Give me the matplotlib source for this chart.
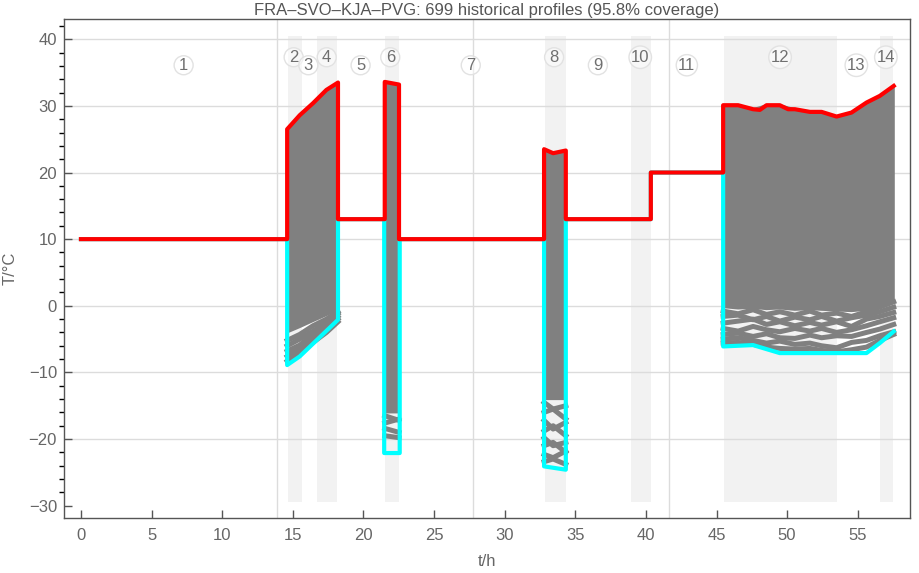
import matplotlib
matplotlib.use("Agg")
import matplotlib.pyplot as plt
from matplotlib.ticker import MultipleLocator

plt.rcParams['font.family'] = ['Liberation Sans', 'DejaVu Sans']

title = "FRA\u2013SVO\u2013KJA\u2013PVG: 699 historical profiles (95.8% coverage)"

# phase bands (start, end) in hours
bands = [(14.66, 15.68), (16.71, 18.16), (21.51, 22.5), (32.86, 34.33),
         (38.98, 40.33), (45.52, 53.5), (56.56, 57.5)]
day_lines = [13.88, 27.76, 41.64]

# phase labels
phase_num = list(range(1, 15))
phase_x = [7.27, 15.06, 16.1, 17.4, 19.8, 21.9, 27.6, 33.5, 36.6, 39.6, 42.9, 49.5, 54.9, 56.99]
phase_y = [36.1, 37.3, 36.1, 37.3, 36.1, 37.3, 36.1, 37.3, 36.1, 37.3, 36.1, 37.3, 36.1, 37.3]

# max envelope (red)
max_t = [0, 14.6, 14.6, 15.49, 16.43, 17.38, 18.2, 18.2, 21.51, 21.51, 22.52, 22.52,
         32.79, 32.79, 33.43, 34.33, 34.33, 40.35, 40.35, 45.47, 45.47, 46.53, 47.59,
         48.07, 48.54, 49.48, 50.07, 50.55, 51.61, 52.44, 53.5, 54.56, 55.62, 56.56, 57.55]
max_v = [10, 10, 26.5, 28.6, 30.4, 32.4, 33.5, 13, 13, 33.6, 33.2, 10,
         10, 23.5, 22.9, 23.3, 13, 13, 20, 20, 30.1, 30.1, 29.5,
         29.4, 30.1, 30.1, 29.5, 29.5, 29.1, 29.1, 28.4, 29.0, 30.5, 31.5, 33.0]

# min envelope (cyan)
min_t = [0, 14.6, 14.6, 15.49, 18.2, 18.2, 21.47, 21.47, 22.57, 22.57,
         32.79, 32.79, 34.33, 34.33, 40.35, 40.35, 45.47, 45.47, 47.59, 49.48,
         53.5, 55.62, 56.56, 57.55]
min_v = [10, 10, -8.9, -7.6, -2.1, 13, 13, -22.1, -22.1, 10,
         10, -24.1, -24.6, 13, 13, 20, 20, -6.1, -5.9, -7.1,
         -7.1, -7.1, -5.6, -3.85]

# dense core of the profiles (top from max envelope, bottom = lowest solid grey)
r24_t = [14.6, 15.49, 16.43, 17.38, 18.2]
r24_hi = [26.5, 28.6, 30.4, 32.4, 33.5]
r24_core = [-4.0, -3.2, -2.3, -1.4, -0.6]
r6_t = [21.51, 22.52]
r6_hi = [33.6, 33.2]
r6_core = [-16.0, -16.0]
r8_t = [32.79, 33.43, 34.33]
r8_hi = [23.5, 22.9, 23.3]
r8_core = [-14.0, -14.0, -14.0]
r12_t = [45.47, 46.53, 47.59, 48.54, 49.48, 50.55, 51.61, 52.44, 53.5, 54.56, 55.62, 56.56, 57.55]
r12_hi = [30.1, 30.1, 29.5, 30.1, 30.1, 29.5, 29.1, 29.1, 28.4, 29.0, 30.5, 31.5, 33.0]
r12_core = [-0.2, -0.4, -0.3, -0.5, -0.4, -0.6, -0.5, -0.6, -0.7, -0.8, -0.6, -0.2, 0.5]

# sparse lower profiles
r24_low = [[-8.3, -7.0, -5.5, -4.0, -2.4],
           [-7.6, -6.4, -5.0, -3.4, -2.0],
           [-6.8, -5.9, -4.3, -2.9, -1.6],
           [-6.0, -5.0, -3.8, -2.5, -1.2],
           [-5.2, -4.3, -3.0, -2.0, -0.9]]
r6_low = [[-16.5, -17.2], [-17.6, -17.0], [-18.4, -19.0], [-19.5, -19.8]]
r8_low = [[-14.5, -15.5, -15.0], [-16.0, -15.5, -17.0], [-17.2, -18.5, -17.5],
          [-18.8, -18.0, -19.5], [-19.8, -21.0, -20.5], [-21.0, -20.5, -22.0],
          [-22.3, -22.8, -21.8], [-23.4, -23.0, -23.8]]
r12_low = [[-0.8, -1.2, -0.6, -1.3, -0.9, -1.4, -0.8, -1.4, -1.1, -1.6, -0.9, -0.2, 0.6],
           [-1.6, -1.4, -2.1, -1.6, -2.3, -1.7, -2.1, -1.6, -2.3, -1.8, -1.4, -0.9, -0.2],
           [-2.6, -2.3, -2.0, -2.8, -2.4, -3.0, -2.5, -2.9, -2.4, -3.1, -2.0, -1.6, -1.0],
           [-3.4, -3.8, -3.1, -3.6, -3.9, -3.4, -3.8, -3.4, -4.0, -3.6, -3.0, -2.4, -1.8],
           [-4.3, -4.1, -4.6, -4.2, -4.8, -4.9, -4.4, -4.8, -4.5, -4.6, -4.0, -3.5, -2.8],
           [-5.0, -4.8, -5.2, -5.6, -5.3, -5.8, -5.6, -6.0, -6.3, -5.5, -5.2, -4.5, -3.9],
           [-5.6, -5.5, -5.8, -6.2, -6.4, -6.5, -6.4, -6.7, -6.9, -6.6, -6.2, -5.2, -4.3]]

fig = plt.figure(figsize=(9.2, 5.73), dpi=100)
ax = fig.add_axes([64/920, 55/573, 846/920, 499/573])

grey = '#808080'
for a, b in bands:
    ax.fill_between([a, b], -29.4, 40.5, color='#f2f2f2', lw=0, zorder=0)
for d in day_lines:
    ax.axvline(d, color='#dcdcdc', lw=1, zorder=0.5)
for yv in range(-20, 41, 10):
    ax.axhline(yv, color='#dcdcdc', lw=1, zorder=0.5)

for t, hi, lo in [(r24_t, r24_hi, r24_core), (r6_t, r6_hi, r6_core),
                  (r8_t, r8_hi, r8_core), (r12_t, r12_hi, r12_core)]:
    ax.fill(t + t[::-1], hi + lo[::-1], color=grey, lw=1.5, ec=grey, zorder=2)
for t, lows in [(r24_t, r24_low), (r6_t, r6_low), (r8_t, r8_low), (r12_t, r12_low)]:
    for l in lows:
        ax.plot(t, l, color=grey, lw=3.6, zorder=2)

ax.plot(min_t, min_v, color='#00ffff', lw=3, zorder=3)
ax.plot(max_t, max_v, color='#ff0000', lw=3, zorder=4)

for n, x, y in zip(phase_num, phase_x, phase_y):
    ax.text(x, y, str(n), ha='center', va='center', fontsize=12, color='#707070', zorder=5,
            bbox=dict(boxstyle='circle,pad=0.12', fc=(1, 1, 1, 0.5), ec='#e2e2e2', lw=1))

ax.set_xlim(-1.2, 58.7)
ax.set_ylim(-31.85, 43.04)
ax.yaxis.set_minor_locator(MultipleLocator(2))
ax.tick_params(direction='in', colors='#555555', labelcolor='#666666', labelsize=12)
ax.tick_params(axis='both', which='major', length=6, width=1)
ax.tick_params(axis='y', which='minor', length=3.5, width=1)
ax.tick_params(axis='x', which='major', pad=7)
ax.tick_params(axis='y', which='major', pad=5)
ax.set_xticks(range(0, 56, 5))
ax.set_yticks(range(-30, 41, 10))
for s in ax.spines.values():
    s.set_color('#555555')
    s.set_linewidth(1)

ax.set_xlabel('t/h', fontsize=12, color='#666666', labelpad=8)
ax.set_ylabel('T/\u00b0C', fontsize=12, color='#666666', labelpad=8)
ax.set_title(title, fontsize=12, color='#555555', pad=3)

fig.savefig('out.png', dpi=100)
